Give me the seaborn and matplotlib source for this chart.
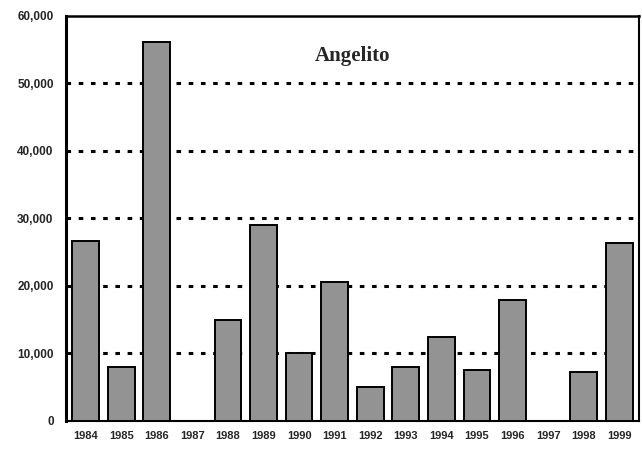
import pandas as pd
import numpy as np
import matplotlib.pyplot as plt
import seaborn as sns

years = ['1984', '1985', '1986', '1987', '1988', '1989', '1990', '1991',
         '1992', '1993', '1994', '1995', '1996', '1997', '1998', '1999']
values = [26700, 8000, 56200, 0, 15000, 29000, 10100, 20600,
          5000, 8000, 12400, 7500, 17900, 0, 7200, 26400]
yticks = [0, 10000, 20000, 30000, 40000, 50000, 60000]
title = 'Angelito'

df = pd.DataFrame({'year': years, 'value': values})

sns.set_style('white')
fig = plt.figure(figsize=(6.42, 4.53), dpi=100)
ax = fig.add_axes([0.103, 0.071, 0.892, 0.894])

sns.barplot(data=df, x='year', y='value', order=years, color='#939393',
            saturation=1, edgecolor='black', linewidth=1.4, width=0.75, ax=ax, zorder=3)

ax.set_ylim(0, 60000)
ax.set_yticks(yticks)
ax.set_yticklabels([f'{v:,}' for v in yticks], fontsize=8.5, fontweight='bold',
                   family='Liberation Sans')
ax.set_xticks(range(len(years)))
ax.set_xticklabels(years, fontsize=8, fontweight='bold', family='Liberation Sans')
ax.set_xlim(-0.55, len(years) - 0.45)
ax.set_xlabel('')
ax.set_ylabel('')

for v in yticks[1:-1]:
    ax.axhline(v, color='black', linestyle=(0, (1.5, 2.5)), linewidth=2.2, zorder=1)

for s in ['left', 'top', 'right', 'bottom']:
    ax.spines[s].set_visible(True)
    ax.spines[s].set_color('black')
ax.spines['left'].set_linewidth(2.2)
ax.spines['top'].set_linewidth(1.8)
ax.spines['right'].set_linewidth(1.5)
ax.spines['bottom'].set_linewidth(1.5)

ax.tick_params(axis='x', length=3, width=1, direction='out', pad=4)
ax.tick_params(axis='y', length=3, width=1, direction='out', pad=6)

ax.text(0.5, 0.9, title, transform=ax.transAxes, ha='center', va='center',
        fontsize=15, fontweight='bold', family='Liberation Serif')

fig.savefig('out.png', dpi=100)
